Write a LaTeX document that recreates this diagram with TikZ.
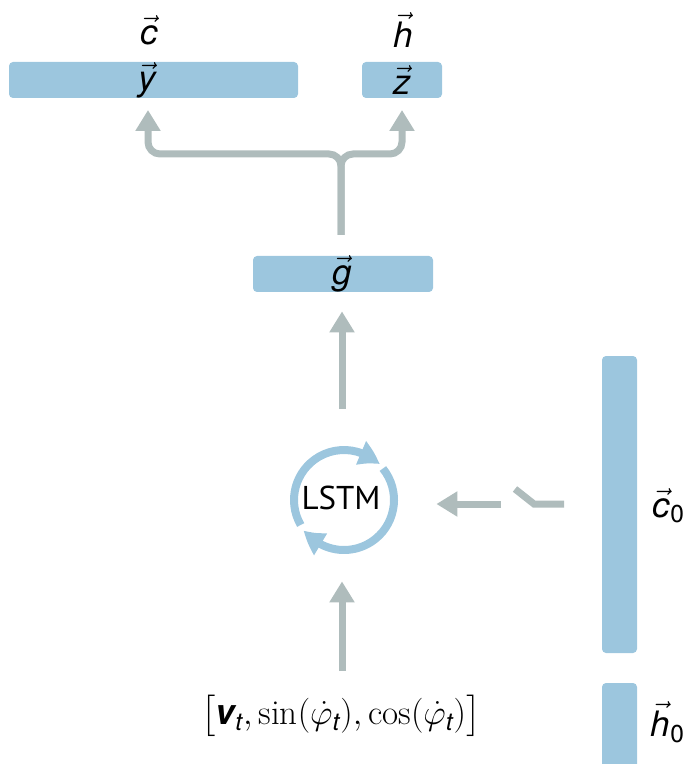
\RequirePackage{fix-cm}
\documentclass[tikz,border=0pt]{standalone}
\usepackage{amsmath}
\usepackage{fontspec}
\newfontfamily\hel{TeX Gyre Heros}
\newfontfamily\lstmfont{PT Sans}
\usetikzlibrary{arrows.meta,bending,calc}
\definecolor{barblue}{HTML}{9CC6DE}
\definecolor{arrgray}{HTML}{AFBCBC}
\newcommand\sv[1]{\text{\hel\itshape #1}}
\begin{document}
\begin{tikzpicture}[x=0.5pt,y=-0.5pt,
  bar/.style={fill=barblue, rounded corners=2pt, inner sep=0pt},
  lbl/.style={inner sep=0pt, font=\fontsize{17.5}{20}\selectfont},
  gline/.style={draw=arrgray, line width=3.5pt},
  garrow/.style={gline, -{Triangle[length=10.5pt,width=12pt]}},
  cyc/.style={draw=barblue, line width=4pt, -{Triangle[length=11pt,width=12pt,bend]}}]
\useasboundingbox (0,0) rectangle (686,764);
% bars
\node[bar, minimum width=144.5pt, minimum height=18pt] (ybar) at (153.5,80) {};
\node[bar, minimum width=40pt, minimum height=18pt] (zbar) at (402,80) {};
\node[bar, minimum width=90pt, minimum height=18pt] (gbar) at (343,274) {};
\node[bar, minimum width=17.5pt, minimum height=148.5pt] (c0bar) at (619.5,504.5) {};
\node[bar, minimum width=17.5pt, minimum height=50pt] (h0bar) at (619.5,733) {};
% labels
\node[lbl] (cl) at (149,30) {$\vec{\sv{c}}$};
\node[lbl] (hl) at (403,30) {$\vec{\sv{h}}$};
\node[lbl] (yl) at (147,80) {$\vec{\sv{y}}$};
\node[lbl] (zl) at (402,80) {$\vec{\sv{z}}$};
\node[lbl] (gl) at (342,274) {$\vec{\sv{g}}$};
\node[lbl] (c0l) at (669,506) {$\vec{\sv{c}}_{\text{\hel 0}}$};
\node[lbl] (h0l) at (668,722) {$\vec{\sv{h}}_{\text{\hel 0}}$};
\node[lbl, font=\fontsize{17.5}{20}\selectfont] (inl) at (341,716)
  {$\bigl[\text{\hel\bfseries\itshape v}_{\sv{t}}, \sin(\dot\varphi_{\sv{t}}), \cos(\dot\varphi_{\sv{t}})\bigr]$};
% LSTM
\node[circle, minimum size=54pt, inner sep=0pt, font=\lstmfont\fontsize{16.5}{20}\selectfont] (lstm) at (341,498) {LSTM};
\draw[cyc] ($(lstm.center)+(3,2)+(210:25pt)$) arc[start angle=210, end angle=45, radius=25pt];
\draw[cyc] ($(lstm.center)+(3,2)+(39:25pt)$) arc[start angle=39, end angle=-143, radius=25pt];
% connectors
\coordinate (gsrc) at (341,235);
\coordinate (split) at (341,154);
\coordinate (ytip) at (148,110);
\coordinate (ztip) at (402,110);
\draw[garrow, rounded corners=6pt] (gsrc) -- (split) -| (ytip);
\draw[garrow, rounded corners=6pt] (gsrc) -- (split) -| (ztip);
\coordinate (lo) at (342,409);
\draw[garrow, shorten >=9.5pt] (lo) -- (lo |- gbar.south);
\coordinate (inp) at (342,671);
\draw[garrow, shorten >=14.5pt] (inp) -- (inp |- lstm.south);
\coordinate (la) at (501,504);
\draw[garrow, shorten >=20.5pt] (la) -- (la -| lstm.east);
\coordinate (sw1) at (515,489);
\coordinate (sw2) at (534,504);
\coordinate (sw3) at (564,504);
\draw[gline] (sw1) -- (sw2) -- (sw3);
\end{tikzpicture}
\end{document}
